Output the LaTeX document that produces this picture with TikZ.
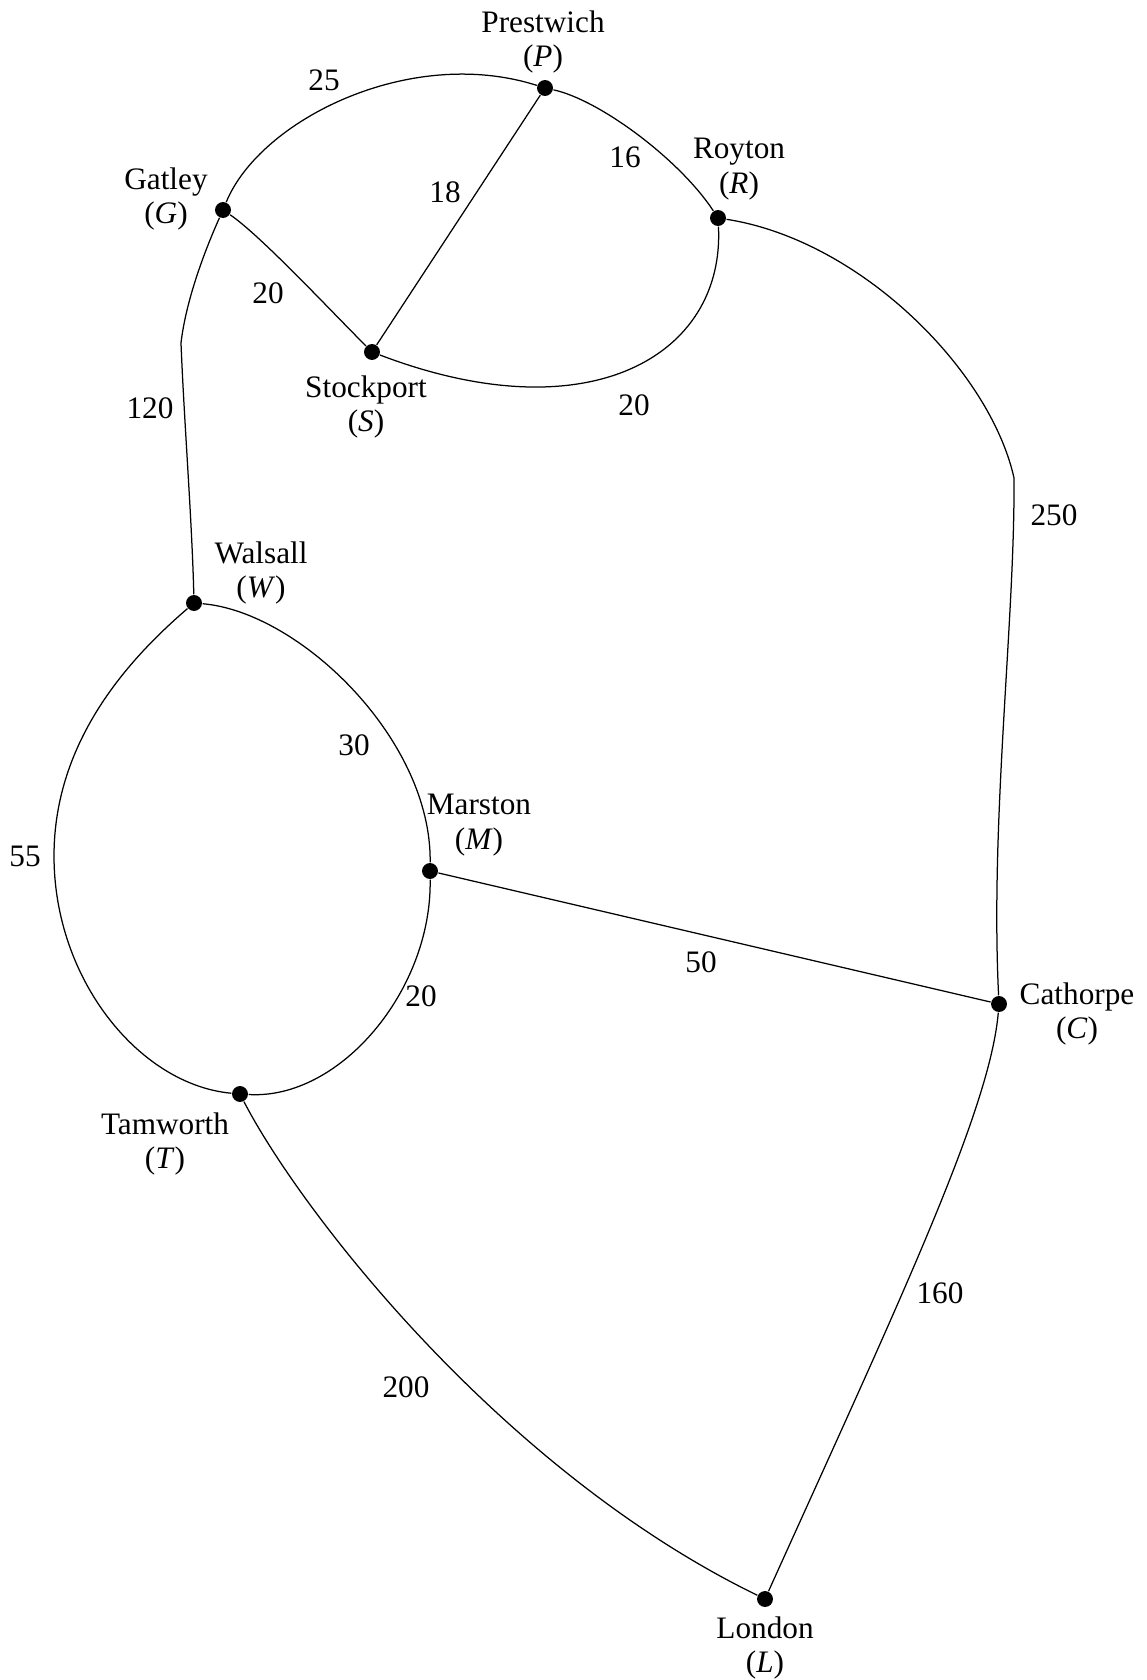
\documentclass[tikz,border=0pt]{standalone}
\usepackage{fontspec}
\setmainfont{Liberation Serif}
\usetikzlibrary{positioning}

\begin{document}
\begin{tikzpicture}[
    x=0.32pt, y=-0.32pt,
    town/.style={circle, fill=black, inner sep=0pt, minimum size=5.1pt},
    place/.style={align=center, inner sep=0pt, font=\fontsize{10}{11}\selectfont},
    weight/.style={inner sep=0pt, font=\fontsize{10}{11}\selectfont},
    road/.style={black, line width=0.4pt}
  ]
  \useasboundingbox (0,0) rectangle (1146,1680);

  % towns
  \node (P) [town] at (545,88) {};
  \node (R) [town] at (718,218) {};
  \node (G) [town] at (223,210) {};
  \node (S) [town] at (372,352) {};
  \node (W) [town] at (194,603) {};
  \node (M) [town] at (430,871) {};
  \node (C) [town] at (999,1004) {};
  \node (T) [town] at (240,1094) {};
  \node (L) [town] at (765,1599) {};

  % town names
  \node (Plab) [place] at (543,42) {Prestwich\\(\textit{P})};
  \node (Rlab) [place] at (739,169) {Royton\\(\textit{R})};
  \node (Glab) [place] at (166,199) {Gatley\\(\textit{G})};
  \node (Slab) [place] at (366,407) {Stockport\\(\textit{S})};
  \node (Wlab) [place] at (261,573) {Walsall\\(\textit{W})};
  \node (Mlab) [place] at (479,825) {Marston\\(\textit{M})};
  \node (Clab) [place] at (1077,1014) {Cathorpe\\(\textit{C})};
  \node (Tlab) [place] at (165,1144) {Tamworth\\(\textit{T})};
  \node (Llab) [place] at (765,1648) {London\\(\textit{L})};

  % roads
  \draw[road] (G) .. controls (260,120) and (410,45) .. (P);
  \draw[road] (P) .. controls (600,100) and (680,160) .. (R);
  \draw[road] (P) -- (S);
  \draw[road] (G) .. controls (260,235) and (330,310) .. (S);
  \draw[road] (S) .. controls (590,435) and (725,355) .. (R);
  \draw[road] (G) .. controls (205,250) and (186,300) .. (181,343)
              .. controls (184,420) and (192,520) .. (W);
  \draw[road] (R) .. controls (860,240) and (990,370) .. (1014,478)
              .. controls (1015,620) and (990,820) .. (C);
  \draw[road] (W) .. controls (300,612) and (432,740) .. (M);
  \draw[road] (W) .. controls (130,658) and (54,740) .. (54,856)
              .. controls (54,980) and (140,1085) .. (T);
  \draw[road] (M) .. controls (432,990) and (340,1100) .. (T);
  \draw[road] (M) -- (C);
  \draw[road] (T) .. controls (300,1210) and (500,1470) .. (L);
  \draw[road] (C) .. controls (990,1110) and (900,1300) .. (L);

  % distances
  \node (wGP) [weight] at (324,80) {25};
  \node (wPR) [weight] at (625,157) {16};
  \node (wPS) [weight] at (445,192) {18};
  \node (wGS) [weight] at (268,293) {20};
  \node (wSR) [weight] at (634,405) {20};
  \node (wGW) [weight] at (150,408) {120};
  \node (wRC) [weight] at (1054,515) {250};
  \node (wWM) [weight] at (354,745) {30};
  \node (wWT) [weight] at (25,856) {55};
  \node (wMC) [weight] at (701,962) {50};
  \node (wMT) [weight] at (421,996) {20};
  \node (wCL) [weight] at (940,1293) {160};
  \node (wTL) [weight] at (406,1387) {200};
\end{tikzpicture}
\end{document}
